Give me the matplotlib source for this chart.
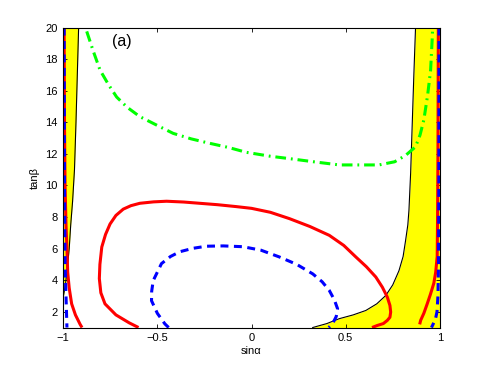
import matplotlib
matplotlib.use("Agg")
import matplotlib.pyplot as plt
import numpy as np

plt.rcParams['font.family'] = ['Liberation Sans', 'DejaVu Sans']

# boundary of the yellow (allowed) regions
left_bound_x = [-0.918, -0.925, -0.932, -0.94, -0.95, -0.96, -0.968, -0.978, -0.987, -1.0]
left_bound_y = [20, 17, 14, 11, 9, 7.5, 6, 4.8, 3.8, 2.9]
right_bound_x = [0.325, 0.40, 0.466, 0.54, 0.607, 0.665, 0.713, 0.75, 0.783, 0.805,
                 0.818, 0.83, 0.836, 0.845, 0.854, 0.862, 0.871]
right_bound_y = [1.0, 1.25, 1.56, 1.8, 2.08, 2.5, 3.03, 3.7, 4.6, 5.5,
                 6.5, 7.5, 8.43, 10.8, 14.1, 17, 20]

# red solid contours
red_mid_x = [-0.60, -0.65, -0.72, -0.778, -0.80, -0.808, -0.805, -0.795, -0.775, -0.751,
             -0.72, -0.681, -0.64, -0.593, -0.52, -0.451, -0.36, -0.275, -0.18, -0.081,
             0.0, 0.1, 0.201, 0.31, 0.413, 0.49, 0.554, 0.61, 0.66, 0.695,
             0.721, 0.735, 0.739, 0.735, 0.721, 0.70, 0.668, 0.64]
red_mid_y = [1.0, 1.3, 1.8, 2.5, 3.2, 4.1, 5.0, 6.1, 6.9, 7.56,
             8.1, 8.5, 8.72, 8.87, 8.96, 9.0, 8.95, 8.87, 8.78, 8.66,
             8.55, 8.3, 7.9, 7.4, 6.84, 6.2, 5.47, 4.85, 4.2, 3.55,
             2.93, 2.4, 1.98, 1.65, 1.45, 1.25, 1.13, 1.0]
red_left_x = [-0.995, -0.993, -0.99, -0.985, -0.98, -0.976, -0.968, -0.955, -0.935, -0.91, -0.90]
red_left_y = [20, 14, 10, 7.5, 6, 4.5, 3.5, 2.5, 1.8, 1.2, 1.0]
red_right_x = [0.992, 0.99, 0.988, 0.986, 0.978, 0.968, 0.95, 0.933, 0.915, 0.898, 0.893]
red_right_y = [20, 12, 8, 5.5, 4.5, 3.8, 3.1, 2.5, 1.9, 1.45, 1.2]

# blue dashed contours
blue_mid_x = [-0.44, -0.46, -0.50, -0.531, -0.53, -0.522, -0.478, -0.43, -0.381, -0.31,
              -0.24, -0.15, -0.046, 0.05, 0.148, 0.24, 0.325, 0.375, 0.413, 0.44,
              0.457, 0.45, 0.43, 0.41]
blue_mid_y = [1.0, 1.23, 1.9, 2.7, 3.3, 3.97, 5.05, 5.5, 5.8, 6.02,
              6.15, 6.17, 6.12, 5.9, 5.47, 5.0, 4.4, 3.9, 3.35, 2.75,
              2.19, 1.7, 1.23, 1.0]
blue_left_x = [-0.995, -0.993, -0.99, -0.985, -0.98]
blue_left_y = [20, 10, 5, 3, 1.0]
blue_right_x = [0.996, 0.995, 0.993, 0.99, 0.985, 0.977, 0.96, 0.955]
blue_right_y = [20, 10, 5, 3, 2.0, 1.55, 1.1, 1.0]

# green dash-dot curve
green_x = [-0.875, -0.84, -0.804, -0.76, -0.716, -0.66, -0.593, -0.5, -0.416, -0.32,
           -0.222, -0.12, -0.028, 0.1, 0.201, 0.33, 0.466, 0.58, 0.677, 0.76,
           0.818, 0.871, 0.895, 0.915, 0.935, 0.951, 0.96, 0.962]
green_y = [19.76, 18.5, 17.3, 16.4, 15.6, 14.95, 14.36, 13.8, 13.3, 12.95,
           12.67, 12.4, 12.1, 11.85, 11.7, 11.5, 11.3, 11.3, 11.3, 11.5,
           11.9, 12.45, 13.2, 14.15, 15.7, 17.3, 19.4, 20.0]

fig = plt.figure(figsize=(4.86, 3.68), dpi=100)
ax = fig.add_axes([0.13, 0.11, 0.775, 0.815])

ax.fill_betweenx(left_bound_y, -1, left_bound_x, color=(1, 1, 0), lw=0)
ax.fill_betweenx(right_bound_y, right_bound_x, 1, color=(1, 1, 0), lw=0)
ax.plot(left_bound_x, left_bound_y, color='k', lw=0.8)
ax.plot(right_bound_x, right_bound_y, color='k', lw=0.8)

for xs, ys in [(red_mid_x, red_mid_y), (red_left_x, red_left_y), (red_right_x, red_right_y)]:
    ax.plot(xs, ys, color='r', lw=2.2, solid_capstyle='butt', solid_joinstyle='round')
for xs, ys in [(blue_mid_x, blue_mid_y), (blue_left_x, blue_left_y), (blue_right_x, blue_right_y)]:
    ax.plot(xs, ys, color='b', lw=2.2, dashes=(2.6, 1.8))
ax.plot(green_x, green_y, color=(0, 1, 0), lw=2.2, dashes=(3.5, 1.6, 0.6, 1.6))

ax.set_xlim(-1, 1)
ax.set_ylim(1, 20)
ax.set_xticks([-1, -0.5, 0, 0.5, 1])
ax.set_xticklabels(['\u22121', '\u22120.5', '0', '0.5', '1'])
ax.set_yticks(np.arange(2, 21, 2))
ax.tick_params(direction='in', top=True, right=True, length=3, width=0.6,
               labelsize=8, pad=4)
for s in ax.spines.values():
    s.set_linewidth(0.8)

ax.set_xlabel('sin\u03b1', fontsize=8, labelpad=2)
ax.set_ylabel('tan\u03b2', fontsize=8, labelpad=4)
ax.text(-0.69, 19.1, '(a)', fontsize=11.5, ha='center', va='center')

fig.savefig('out.png', dpi=100)
